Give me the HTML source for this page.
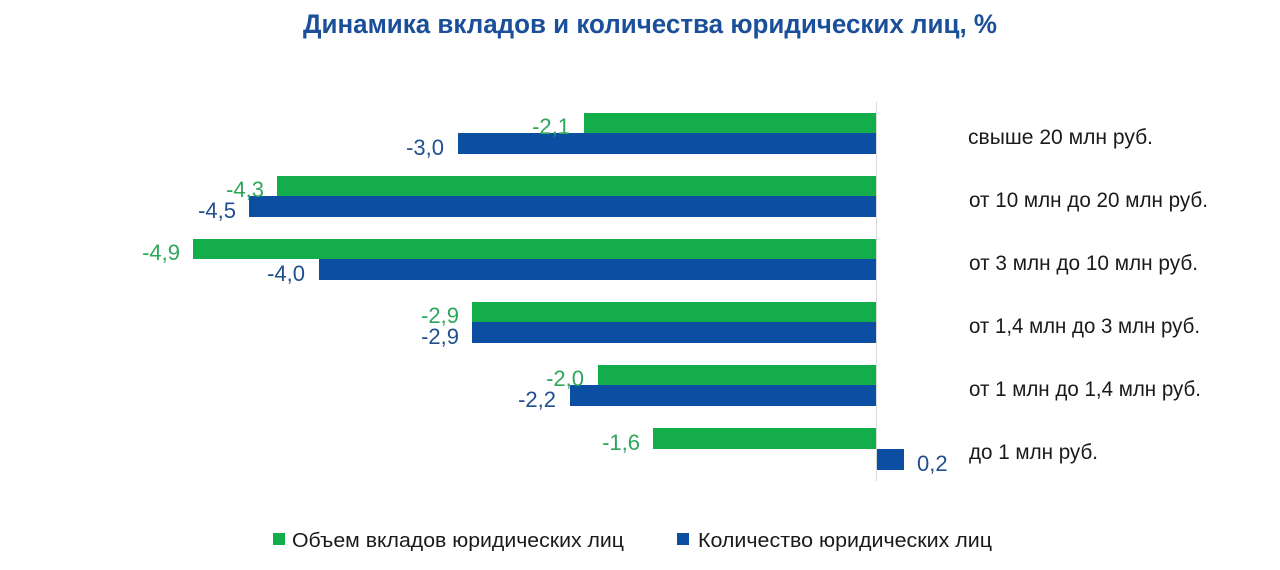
<!DOCTYPE html>
<html>
<head>
<meta charset="utf-8">
<style>
  html, body { margin:0; padding:0; background:#ffffff; }
  body { width:1280px; height:570px; overflow:hidden; }
  svg { display:block; }
  text { font-family: "Liberation Sans", "DejaVu Sans", sans-serif; }
</style>
</head>
<body>
<svg width="1280" height="570" viewBox="0 0 1280 570" xmlns="http://www.w3.org/2000/svg">
  <rect x="0" y="0" width="1280" height="570" fill="#ffffff"/>

  <!-- Title -->
  <text x="303" y="33" font-size="27" font-weight="bold" fill="#1B4F9A" textLength="694" lengthAdjust="spacingAndGlyphs">Динамика вкладов и количества юридических лиц, %</text>

  <!-- Axis line -->
  <line x1="876.5" y1="102" x2="876.5" y2="481" stroke="#d9d9d9" stroke-width="1"/>

  <!-- Row 1: свыше 20 млн -->
  <rect x="584" y="113" width="292" height="20" fill="#13AE4B"/>
  <rect x="458" y="133" width="418" height="21" fill="#0B4EA2"/>
  <!-- Row 2 -->
  <rect x="277" y="176" width="599" height="20" fill="#13AE4B"/>
  <rect x="249" y="196" width="627" height="21" fill="#0B4EA2"/>
  <!-- Row 3 -->
  <rect x="193" y="239" width="683" height="20" fill="#13AE4B"/>
  <rect x="319" y="259" width="557" height="21" fill="#0B4EA2"/>
  <!-- Row 4 -->
  <rect x="472" y="302" width="404" height="20" fill="#13AE4B"/>
  <rect x="472" y="322" width="404" height="21" fill="#0B4EA2"/>
  <!-- Row 5 -->
  <rect x="598" y="365" width="278" height="20" fill="#13AE4B"/>
  <rect x="570" y="385" width="306" height="21" fill="#0B4EA2"/>
  <!-- Row 6 -->
  <rect x="653" y="428" width="223" height="21" fill="#13AE4B"/>
  <rect x="877" y="449" width="27" height="21" fill="#0B4EA2"/>

  <!-- Value labels -->
  <g font-size="22" text-anchor="end">
    <text x="570" y="134" fill="#2EA65A">-2,1</text>
    <text x="444" y="155" fill="#1F4F8F">-3,0</text>
    <text x="264" y="197" fill="#2EA65A">-4,3</text>
    <text x="236" y="218" fill="#1F4F8F">-4,5</text>
    <text x="180" y="260" fill="#2EA65A">-4,9</text>
    <text x="305" y="281" fill="#1F4F8F">-4,0</text>
    <text x="459" y="323" fill="#2EA65A">-2,9</text>
    <text x="459" y="344" fill="#1F4F8F">-2,9</text>
    <text x="584" y="386" fill="#2EA65A">-2,0</text>
    <text x="556" y="407" fill="#1F4F8F">-2,2</text>
    <text x="640" y="450" fill="#2EA65A">-1,6</text>
  </g>
  <text x="917" y="471" font-size="22" fill="#1F4F8F">0,2</text>

  <!-- Category labels -->
  <g font-size="21" fill="#1a1a1a">
    <text x="968" y="144" textLength="185" lengthAdjust="spacingAndGlyphs">свыше 20 млн руб.</text>
    <text x="969" y="207" textLength="239" lengthAdjust="spacingAndGlyphs">от 10 млн до 20 млн руб.</text>
    <text x="969" y="270" textLength="229" lengthAdjust="spacingAndGlyphs">от 3 млн до 10 млн руб.</text>
    <text x="969" y="333" textLength="231" lengthAdjust="spacingAndGlyphs">от 1,4 млн до 3 млн руб.</text>
    <text x="969" y="396" textLength="232" lengthAdjust="spacingAndGlyphs">от 1 млн до 1,4 млн руб.</text>
    <text x="969" y="459" textLength="129" lengthAdjust="spacingAndGlyphs">до 1 млн руб.</text>
  </g>

  <!-- Legend -->
  <rect x="273" y="533" width="12" height="12" fill="#13AE4B"/>
  <text x="292" y="547" font-size="20" fill="#1a1a1a" textLength="332" lengthAdjust="spacingAndGlyphs">Объем вкладов юридических лиц</text>
  <rect x="677" y="533" width="12" height="12" fill="#0B4EA2"/>
  <text x="698" y="547" font-size="20" fill="#1a1a1a" textLength="294" lengthAdjust="spacingAndGlyphs">Количество юридических лиц</text>
</svg>
</body>
</html>
